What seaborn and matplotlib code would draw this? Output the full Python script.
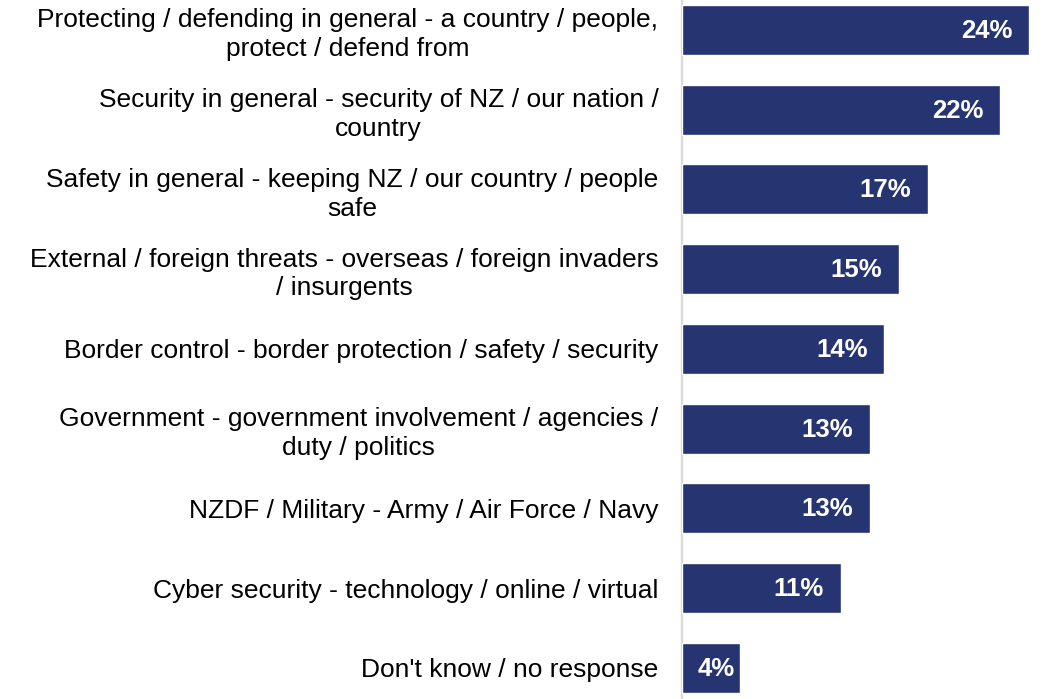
import matplotlib
matplotlib.use("Agg")
import matplotlib.pyplot as plt
import matplotlib.transforms as mtransforms
import seaborn as sns
import pandas as pd

categories = [
    "Protecting / defending in general - a country / people,\nprotect / defend from",
    "Security in general - security of NZ / our nation /\ncountry",
    "Safety in general - keeping NZ / our country / people\nsafe",
    "External / foreign threats - overseas / foreign invaders\n/ insurgents",
    "Border control - border protection / safety / security",
    "Government - government involvement / agencies /\nduty / politics",
    "NZDF / Military - Army / Air Force / Navy",
    "Cyber security - technology / online / virtual",
    "Don't know / no response",
]
values = [24, 22, 17, 15, 14, 13, 13, 11, 4]
value_labels = [f"{v}%" for v in values]

BAR_COLOR = "#263572"
AXIS_COLOR = "#d9d9d9"

sns.set_theme(style="white")
plt.rcParams["font.family"] = ["Liberation Sans", "DejaVu Sans"]

df = pd.DataFrame({"category": categories, "value": values})

fig = plt.figure(figsize=(10.46, 6.99), dpi=100)
ax = fig.add_axes([0.652, 0.0, 1 - 0.652, 1.0])

sns.barplot(data=df, y="category", x="value", orient="h", color=BAR_COLOR,
            saturation=1, width=0.627, ax=ax)

ax.set_xlim(0, 25.17)
ax.set_ylim(len(categories) - 1 + 0.39, -0.376)
ax.set_xlabel("")
ax.set_ylabel("")
ax.set_xticks([])
ax.tick_params(axis="y", length=0, pad=17, labelsize=19, labelcolor="black")
for lbl in ax.get_yticklabels():
    lbl.set_linespacing(1.25)
    lbl.set_multialignment("center")

for side in ["top", "right", "bottom"]:
    ax.spines[side].set_visible(False)
ax.spines["left"].set_color(AXIS_COLOR)
ax.spines["left"].set_linewidth(1.6)
ax.spines["left"].set_zorder(0)

# value labels inside the bar ends, kept clear of the bar start
fig.canvas.draw()
renderer = fig.canvas.get_renderer()
for i, (v, txt) in enumerate(zip(values, value_labels)):
    end_px = ax.transData.transform((v, i))[0]
    start_px = ax.transData.transform((0, i))[0]
    t = ax.text(v, i, txt, ha="right", va="center", color="white",
                fontsize=18.5, fontweight="bold")
    w = t.get_window_extent(renderer).width
    right_px = max(end_px - 17, start_px + 16 + w)
    shift = (right_px - end_px) / fig.dpi
    t.set_transform(ax.transData + mtransforms.ScaledTranslation(shift, -1 / fig.dpi, fig.dpi_scale_trans))

fig.savefig("out.png", dpi=100)
